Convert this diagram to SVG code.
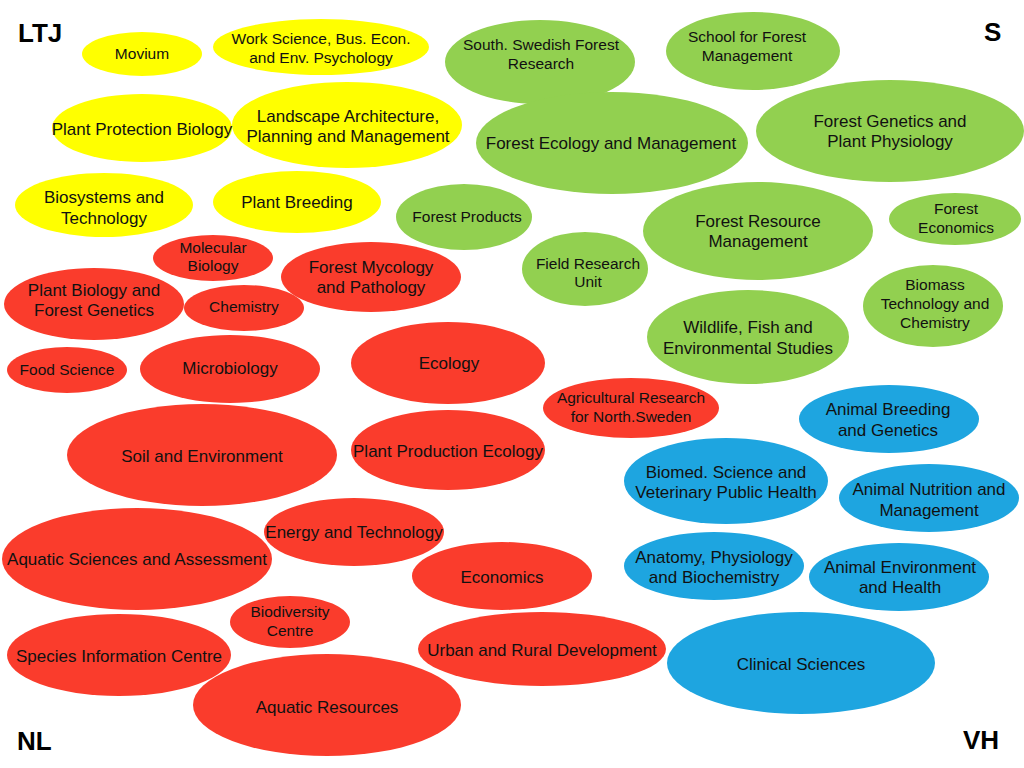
<svg xmlns="http://www.w3.org/2000/svg" width="1024" height="768" viewBox="0 0 1024 768">
<style>
text{font-family:"Liberation Sans",Arial,sans-serif;fill:#111;text-anchor:middle}
.l{font-size:17px}
.s{font-size:15.5px}
.c{font-size:26px;font-weight:bold;text-anchor:start;fill:#000}
.y{fill:#ffff00}
.g{fill:#92d050}
.r{fill:#fa3c2c}
.b{fill:#1ea5e0}
</style>
<rect width="1024" height="768" fill="#fff"/>
<g id="connectors"/>
<!-- Yellow -->
<g id="movium"><ellipse class="y" cx="142" cy="54" rx="60" ry="22"/><text class="s" x="142" y="59">Movium</text></g>
<g id="work-science"><ellipse class="y" cx="321" cy="47" rx="108" ry="28"/><text class="s" x="321" y="44">Work Science, Bus. Econ.</text><text class="s" x="321" y="63">and Env. Psychology</text></g>
<g id="landscape"><ellipse class="y" cx="347" cy="125" rx="115" ry="43"/><text class="l" x="348" y="122">Landscape Architecture,</text><text class="l" x="348" y="142">Planning and Management</text></g>
<g id="plant-protection"><ellipse class="y" cx="142" cy="128" rx="90" ry="34"/><text class="l" x="142" y="135">Plant Protection Biology</text></g>
<g id="biosystems"><ellipse class="y" cx="104" cy="205" rx="89" ry="32"/><text class="l" x="104" y="203">Biosystems and</text><text class="l" x="104" y="224">Technology</text></g>
<g id="plant-breeding"><ellipse class="y" cx="297" cy="202" rx="84" ry="31"/><text class="l" x="297" y="208">Plant Breeding</text></g>
<!-- Green -->
<g id="south-swedish"><ellipse class="g" cx="540" cy="62" rx="95" ry="42"/><text class="s" x="541" y="50">South. Swedish Forest</text><text class="s" x="541" y="69">Research</text></g>
<g id="school-forest"><ellipse class="g" cx="753" cy="51" rx="87" ry="39"/><text class="s" x="747" y="42">School for Forest</text><text class="s" x="747" y="61">Management</text></g>
<g id="forest-ecology"><ellipse class="g" cx="612" cy="143" rx="136" ry="51"/><text class="l" x="611" y="149">Forest Ecology and Management</text></g>
<g id="forest-genetics"><ellipse class="g" cx="890" cy="131" rx="134" ry="51"/><text class="l" x="890" y="127">Forest Genetics and</text><text class="l" x="890" y="147">Plant Physiology</text></g>
<g id="forest-products"><ellipse class="g" cx="464" cy="217" rx="68" ry="33"/><text class="s" x="467" y="222">Forest Products</text></g>
<g id="forest-resource"><ellipse class="g" cx="758" cy="231" rx="115" ry="49"/><text class="l" x="758" y="227">Forest Resource</text><text class="l" x="758" y="247">Management</text></g>
<g id="forest-economics"><ellipse class="g" cx="955" cy="219" rx="66" ry="26"/><text class="s" x="956" y="214">Forest</text><text class="s" x="956" y="233">Economics</text></g>
<g id="field-research"><ellipse class="g" cx="585" cy="269" rx="63" ry="37"/><text class="s" x="588" y="269">Field Research</text><text class="s" x="588" y="287">Unit</text></g>
<g id="biomass"><ellipse class="g" cx="933" cy="306" rx="70" ry="41"/><text class="s" x="935" y="290">Biomass</text><text class="s" x="935" y="309">Technology and</text><text class="s" x="935" y="328">Chemistry</text></g>
<g id="wildlife"><ellipse class="g" cx="748" cy="337" rx="101" ry="47"/><text class="l" x="748" y="333">Wildlife, Fish and</text><text class="l" x="748" y="354">Environmental Studies</text></g>
<!-- Red -->
<g id="molecular"><ellipse class="r" cx="213" cy="258" rx="60" ry="23"/><text class="s" x="213" y="253">Molecular</text><text class="s" x="213" y="271">Biology</text></g>
<g id="chemistry"><ellipse class="r" cx="244" cy="308" rx="60" ry="23"/><text class="s" x="244" y="312">Chemistry</text></g>
<g id="plant-biology"><ellipse class="r" cx="94" cy="304" rx="90" ry="36"/><text class="l" x="94" y="296">Plant Biology and</text><text class="l" x="94" y="316">Forest Genetics</text></g>
<g id="forest-mycology"><ellipse class="r" cx="371" cy="277" rx="90" ry="35"/><text class="l" x="371" y="273">Forest Mycology</text><text class="l" x="371" y="293">and Pathology</text></g>
<g id="food-science"><ellipse class="r" cx="67" cy="370" rx="60" ry="23"/><text class="s" x="67" y="375">Food Science</text></g>
<g id="microbiology"><ellipse class="r" cx="230" cy="369" rx="90" ry="34"/><text class="l" x="230" y="374">Microbiology</text></g>
<g id="ecology"><ellipse class="r" cx="448" cy="363" rx="97" ry="41"/><text class="l" x="449" y="369">Ecology</text></g>
<g id="agri-research"><ellipse class="r" cx="631" cy="408" rx="88" ry="30"/><text class="s" x="631" y="403">Agricultural Research</text><text class="s" x="631" y="422">for North.Sweden</text></g>
<g id="soil"><ellipse class="r" cx="202" cy="455" rx="135" ry="51"/><text class="l" x="202" y="462">Soil and Environment</text></g>
<g id="plant-production"><ellipse class="r" cx="448" cy="450" rx="97" ry="40"/><text class="l" x="448" y="457">Plant Production Ecology</text></g>
<g id="energy"><ellipse class="r" cx="354" cy="532" rx="90" ry="34"/><text class="l" x="354" y="538">Energy and Technology</text></g>
<g id="aquatic-sciences"><ellipse class="r" cx="137" cy="559" rx="135" ry="51"/><text class="l" x="137" y="565">Aquatic Sciences and Assessment</text></g>
<g id="economics"><ellipse class="r" cx="502" cy="576" rx="90" ry="34"/><text class="l" x="502" y="583">Economics</text></g>
<g id="biodiversity"><ellipse class="r" cx="290" cy="622" rx="60" ry="26"/><text class="s" x="290" y="617">Biodiversity</text><text class="s" x="290" y="636">Centre</text></g>
<g id="species"><ellipse class="r" cx="119" cy="655" rx="112" ry="41"/><text class="l" x="119" y="662">Species Information Centre</text></g>
<g id="urban"><ellipse class="r" cx="542" cy="649" rx="124" ry="37"/><text class="l" x="542" y="656">Urban and Rural Development</text></g>
<g id="aquatic-resources"><ellipse class="r" cx="327" cy="705" rx="134" ry="51"/><text class="l" x="327" y="713">Aquatic Resources</text></g>
<!-- Blue -->
<g id="animal-breeding"><ellipse class="b" cx="889" cy="419" rx="90" ry="34"/><text class="l" x="888" y="415">Animal Breeding</text><text class="l" x="888" y="436">and Genetics</text></g>
<g id="biomed"><ellipse class="b" cx="726" cy="481" rx="102" ry="43"/><text class="l" x="726" y="478">Biomed. Science and</text><text class="l" x="726" y="498">Veterinary Public Health</text></g>
<g id="animal-nutrition"><ellipse class="b" cx="929" cy="498" rx="90" ry="34"/><text class="l" x="929" y="495">Animal Nutrition and</text><text class="l" x="929" y="516">Management</text></g>
<g id="anatomy"><ellipse class="b" cx="714" cy="566" rx="90" ry="34"/><text class="l" x="714" y="563">Anatomy, Physiology</text><text class="l" x="714" y="583">and Biochemistry</text></g>
<g id="animal-environment"><ellipse class="b" cx="899" cy="577" rx="90" ry="34"/><text class="l" x="900" y="573">Animal Environment</text><text class="l" x="900" y="593">and Health</text></g>
<g id="clinical"><ellipse class="b" cx="801" cy="663" rx="134" ry="51"/><text class="l" x="801" y="670">Clinical Sciences</text></g>
<!-- Corner labels -->
<text class="c" x="18" y="42">LTJ</text>
<text class="c" x="984" y="41">S</text>
<text class="c" x="17" y="750">NL</text>
<text class="c" x="963" y="749">VH</text>
</svg>
